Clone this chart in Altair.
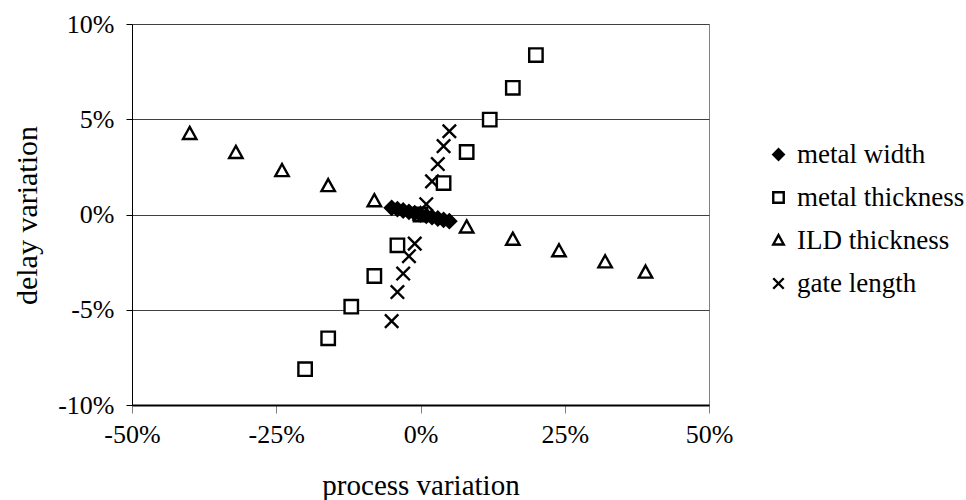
import altair as alt
import pandas as pd

series_names = ["metal width", "metal thickness", "ILD thickness", "gate length"]

mw_x = [-5, -4, -3, -2, -1, 0, 1, 2, 3, 4, 5]
mw_y = [0.35, 0.28, 0.21, 0.14, 0.07, 0.0, -0.07, -0.14, -0.21, -0.28, -0.35]

mt_x = [-20, -16, -12, -8, -4, 0, 4, 8, 12, 16, 20]
mt_y = [-8.12, -6.5, -4.84, -3.23, -1.62, 0.0, 1.65, 3.28, 4.98, 6.65, 8.37]

ild_x = [-40, -32, -24, -16, -8, 0, 8, 16, 24, 32, 39]
ild_y = [4.23, 3.23, 2.28, 1.49, 0.7, 0.0, -0.68, -1.32, -1.93, -2.51, -3.05]

gl_x = [-5, -4, -3, -2, -1, 0, 1, 2, 3, 4, 5]
gl_y = [-5.6, -4.07, -3.1, -2.19, -1.53, 0.0, 0.54, 1.74, 2.65, 3.59, 4.37]

x_ticks = [-50, -25, 0, 25, 50]
y_ticks = [-10, -5, 0, 5, 10]

rows = []
for name, xs, ys, order in [
    ("gate length", gl_x, gl_y, 0),
    ("ILD thickness", ild_x, ild_y, 1),
    ("metal thickness", mt_x, mt_y, 2),
    ("metal width", mw_x, mw_y, 3),
]:
    for xv, yv in zip(xs, ys):
        rows.append({"series": name, "pv": xv, "dv": yv, "ord": order})
df = pd.DataFrame(rows)

FONT = "Liberation Serif"
X_PATH = "M-1,-1L1,1M1,-1L-1,1"
TRI_PATH = "M0,-1.05L1,0.75L-1,0.75Z"

legend = alt.Legend(
    title=None,
    orient="none",
    legendX=633,
    legendY=117,
    labelFont=FONT,
    labelFontSize=27,
    labelColor="black",
    labelLimit=400,
    symbolSize=110,
    symbolStrokeWidth=2.4,
    rowPadding=15,
    labelOffset=5,
    padding=0,
)

chart = (
    alt.Chart(df)
    .mark_point(filled=True, strokeWidth=2.4, size=180, opacity=1)
    .encode(
        x=alt.X(
            "pv:Q",
            scale=alt.Scale(domain=[-50, 50], nice=False, zero=False),
            axis=alt.Axis(
                values=x_ticks,
                labelExpr="datum.value + '%'",
                labelFlush=False,
                title="process variation",
                titleFont=FONT,
                titleFontSize=29,
                titleFontWeight="normal",
                titleColor="black",
                titleY=80,
                titleBaseline="middle",
                labelFont=FONT,
                labelFontSize=26,
                labelColor="black",
                labelPadding=8,
                tickSize=8,
                tickColor="#808080",
                domainColor="black",
                domainWidth=2,
                grid=False,
            ),
        ),
        y=alt.Y(
            "dv:Q",
            scale=alt.Scale(domain=[-10, 10], nice=False, zero=False),
            axis=alt.Axis(
                values=y_ticks,
                labelExpr="datum.value + '%'",
                labelFlush=False,
                title="delay variation",
                titleFont=FONT,
                titleFontSize=30,
                titleFontWeight="normal",
                titleColor="black",
                titleX=-105,
                titleY=191,
                titleBaseline="middle",
                labelFont=FONT,
                labelFontSize=26,
                labelColor="black",
                labelPadding=12,
                tickSize=6,
                tickColor="black",
                domainColor="black",
                grid=True,
                gridColor="#404040",
                gridWidth=1,
            ),
        ),
        shape=alt.Shape(
            "series:N",
            scale=alt.Scale(
                domain=series_names,
                range=["diamond", "square", TRI_PATH, X_PATH],
            ),
            legend=legend,
        ),
        fill=alt.Fill(
            "series:N",
            scale=alt.Scale(
                domain=series_names,
                range=["black", "white", "white", "white"],
            ),
            legend=legend,
        ),
        stroke=alt.Stroke(
            "series:N",
            scale=alt.Scale(
                domain=series_names,
                range=["black", "black", "black", "black"],
            ),
            legend=legend,
        ),
        order=alt.Order("ord:Q"),
    )
    .properties(
        width=577,
        height=381,
        autosize=alt.AutoSizeParams(type="none"),
        padding={"left": 132, "top": 24, "right": 257, "bottom": 95},
        background="white",
    )
    .configure_view(stroke="#808080", strokeWidth=1)
    .configure_legend(symbolStrokeWidth=2.4)
)

chart.save("out.html", embed_options={"renderer": "svg", "actions": False})
